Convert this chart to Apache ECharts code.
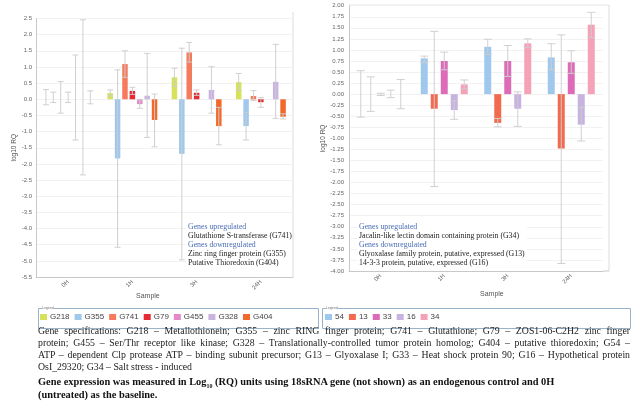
<!DOCTYPE html>
<html>
<head>
<meta charset="utf-8">
<script src="https://cdn.jsdelivr.net/npm/echarts@6/dist/echarts.min.js"></script>
<style>
html, body { margin: 0; padding: 0; background: #fff; }
#wrap { position: relative; width: 642px; height: 418px; }
#chartMain { position: absolute; left: 0; top: 0; width: 642px; height: 418px; }
.caption { position: absolute; left: 38px; width: 592px; font-family: "Liberation Serif", "Times New Roman", serif; color: #222; }
.caption .ln { font-size: 9.8px; line-height: 12px; height: 12px; white-space: nowrap; text-align: justify; text-align-last: justify; }
.caption .ln.last { text-align-last: left; }
.caption .bold { font-weight: bold; font-size: 10.4px; line-height: 13px; height: 13px; color: #111; white-space: nowrap; }
</style>
</head>
<body>
<div id="wrap">
    <div id="chartMain"></div>
    <div class="caption" style="top: 325px">
        <div class="ln">Gene specifications: G218 – Metallothionein; G355 – zinc RING finger protein; G741 – Glutathione; G79 – ZOS1-06-C2H2 zinc finger</div>
        <div class="ln">protein; G455 – Ser/Thr receptor like kinase; G328 – Translationally-controlled tumor protein homolog; G404 – putative thioredoxin; G54 –</div>
        <div class="ln">ATP – dependent Clp protease ATP – binding subunit precursor; G13 – Glyoxalase I; G33 – Heat shock protein 90; G16 – Hypothetical protein</div>
        <div class="ln last">OsI_29320; G34 – Salt stress - induced</div>
        <div class="bold" style="margin-top: 2px">Gene expression was measured in Log<sub style="font-size: 6px">10</sub> (RQ) units using 18sRNA gene (not shown) as an endogenous control and 0H</div>
        <div class="bold">(untreated) as the baseline.</div>
    </div>
</div>
<script>
// sample times
const categories = ['0H', '1H', '3H', '24H']

// left chart: log10 RQ per gene, and error range [low, high]
const leftGenes = ['G218', 'G355', 'G741', 'G79', 'G455', 'G328', 'G404']
const G218 = [0, 0.19, 0.68, 0.53]
const G355 = [0, -1.83, -1.69, -0.83]
const G741 = [0, 1.09, 1.45, 0.1]
const G79 = [0, 0.26, 0.2, -0.09]
const G455 = [0, -0.15, 0, 0]
const G328 = [0, 0.11, 0.29, 0.54]
const G404 = [0, -0.64, -0.83, -0.54]
const errG218 = [[-0.17, 0.3], [0.1, 0.29], [0.4, 0.96], [0.27, 0.8]]
const errG355 = [[-0.1, 0.22], [-4.58, 0.91], [-4.97, 1.58], [-1.26, -0.4]]
const errG741 = [[-0.43, 0.55], [0.68, 1.5], [1.15, 1.76], [-0.04, 0.27]]
const errG79 = [[-0.1, 0.22], [0.15, 0.37], [0.12, 0.29], [-0.25, 0.05]]
const errG455 = [[-1.26, 1.37], [-0.28, -0.02], null, null]
const errG328 = [[-2.34, 2.46], [-1.18, 1.42], [-0.43, 1.01], [-0.59, 1.7]]
const errG404 = [[-0.14, 0.26], [-1.47, 0.16], [-1.41, -0.25], [-0.61, -0.45]]

// right chart
const rightGenes = ['54', '13', '33', '16', '34']
const G54 = [0, 0.81, 1.07, 0.83]
const G13 = [0, -0.33, -0.65, -1.23]
const G33 = [0, 0.75, 0.75, 0.72]
const G16 = [0, -0.36, -0.33, -0.69]
const G34 = [0, 0.22, 1.15, 1.57]
const errG54 = [[-0.52, 0.53], [0.72, 0.86], [0.9, 1.24], [0.55, 1.14]]
const errG13 = [[-0.39, 0.39], [-2.09, 1.42], [-0.74, -0.55], [-3.83, 1.34]]
const errG33 = [[-0.03, 0.02], [0.55, 0.95], [0.4, 1.1], [0.47, 0.98]]
const errG16 = [[-0.08, 0.09], [-0.57, -0.15], [-0.73, 0.05], [-1.06, -0.3]]
const errG34 = [[-0.33, 0.33], [0.12, 0.32], [1.05, 1.25], [1.28, 1.85]]

const leftValues = [G218, G355, G741, G79, G455, G328, G404]
const leftErrors = [errG218, errG355, errG741, errG79, errG455, errG328, errG404]
const rightValues = [G54, G13, G33, G16, G34]
const rightErrors = [errG54, errG13, errG33, errG16, errG34]

const leftColors = ['#d6e35a', '#9fc8ec', '#f47b5e', '#e52a32', '#e48ac8', '#c9b4e0', '#f26a2b']
const rightColors = ['#9fc8ec', '#f26b50', '#dd6cb8', '#c7b3e0', '#f5a1b8']

const chart = echarts.init(document.getElementById('chartMain'))

// bar width / slot per chart (px)
const leftBar = { w: 5.5, slot: 7.4, cap: 3 }
const rightBar = { w: 7, slot: 10, cap: 4 }

function errorSeries(errors, n, cfg, axisIdx) {
    const data = []
    errors.forEach((arr, g) => {
        arr.forEach((e, c) => {
            if (e) data.push([c, g, e[0], e[1]])
        })
    })
    return {
        type: 'custom',
        xAxisIndex: axisIdx,
        yAxisIndex: axisIdx,
        z: 5,
        silent: true,
        encode: { x: 0, y: [2, 3] },
        data: data,
        renderItem: (params, api) => {
            const c = api.value(0), g = api.value(1)
            const x = api.coord([c, 0])[0] + (g - (n - 1) / 2) * cfg.slot
            const yHi = api.coord([c, api.value(3)])[1]
            const yLo = api.coord([c, api.value(2)])[1]
            const style = { stroke: 'rgba(205,205,205,0.95)', lineWidth: 1 }
            return {
                type: 'group',
                children: [
                    { type: 'line', shape: { x1: x, y1: yHi, x2: x, y2: yLo }, style: style },
                    { type: 'line', shape: { x1: x - cfg.cap, y1: yHi, x2: x + cfg.cap, y2: yHi }, style: style },
                    { type: 'line', shape: { x1: x - cfg.cap, y1: yLo, x2: x + cfg.cap, y2: yLo }, style: style },
                ],
            }
        },
    }
}

const axisText = { color: '#666', fontSize: 6, fontFamily: 'Liberation Sans' }

const series = []
leftGenes.forEach((name, i) => {
    series.push({
        name: name,
        type: 'bar',
        xAxisIndex: 0,
        yAxisIndex: 0,
        barWidth: leftBar.w,
        barGap: ((leftBar.slot - leftBar.w) / leftBar.w * 100).toFixed(1) + '%',
        itemStyle: { color: leftColors[i] },
        data: leftValues[i],
    })
})
rightGenes.forEach((name, i) => {
    series.push({
        name: name,
        type: 'bar',
        xAxisIndex: 1,
        yAxisIndex: 1,
        barWidth: rightBar.w,
        barGap: ((rightBar.slot - rightBar.w) / rightBar.w * 100).toFixed(1) + '%',
        itemStyle: { color: rightColors[i] },
        data: rightValues[i],
    })
})
series.push(errorSeries(leftErrors, leftGenes.length, leftBar, 0))
series.push(errorSeries(rightErrors, rightGenes.length, rightBar, 1))

const annoTitle = { fill: '#4a6db3', fontSize: 7.8, fontFamily: 'Liberation Serif' }
const annoText = { fill: '#222', fontSize: 7.8, fontFamily: 'Liberation Serif' }
function textEl(x, y, text, st) {
    return { type: 'text', left: x, top: y, z: 10, style: Object.assign({ text: text }, st) }
}

const legendBase = {
    top: 313,
    padding: 0,
    icon: 'rect',
    itemWidth: 7,
    itemHeight: 6,
    itemGap: 5,
    textStyle: { color: '#444', fontSize: 8, fontFamily: 'Liberation Sans', padding: [0, 0, 0, -2] },
}

const option = {
    animation: false,
    grid: [
        { left: 36, top: 18.5, width: 257, height: 258.5 },
        { left: 349, top: 5.7, width: 254, height: 265.3 },
    ],
    xAxis: [0, 1].map((i) => ({
        type: 'category',
        gridIndex: i,
        data: categories,
        axisTick: { show: false },
        axisLine: { onZero: false, lineStyle: { color: '#c8c8c8' } },
        axisLabel: Object.assign({ rotate: 45, margin: 4 }, axisText),
    })),
    yAxis: [
        {
            type: 'value',
            gridIndex: 0,
            min: -5.5,
            max: 2.5,
            interval: 0.5,
            name: 'log10 RQ',
            nameLocation: 'middle',
            nameGap: 12,
            nameTextStyle: { color: '#555', fontSize: 6.5, fontFamily: 'Liberation Sans' },
            axisLine: { show: true, lineStyle: { color: '#c8c8c8' } },
            splitLine: { lineStyle: { color: '#f2f2f2' } },
            axisLabel: Object.assign({ margin: 4, formatter: (v) => v.toFixed(1) }, axisText),
        },
        {
            type: 'value',
            gridIndex: 1,
            min: -4,
            max: 2,
            interval: 0.25,
            name: 'log10 RQ',
            nameLocation: 'middle',
            nameGap: 17,
            nameTextStyle: { color: '#555', fontSize: 6.5, fontFamily: 'Liberation Sans' },
            axisLine: { show: true, lineStyle: { color: '#c8c8c8' } },
            splitLine: { lineStyle: { color: '#f2f2f2' } },
            axisLabel: Object.assign({ margin: 5, formatter: (v) => v.toFixed(2) }, axisText),
        },
    ],
    legend: [
        Object.assign({ data: leftGenes, left: 40 }, legendBase),
        Object.assign({ data: rightGenes, left: 325 }, legendBase),
    ],
    graphic: [
        // plot borders
        { type: 'line', shape: { x1: 293, y1: 12, x2: 293, y2: 277 }, style: { stroke: '#dcdcdc', lineWidth: 1 } },
        { type: 'line', shape: { x1: 349, y1: 5, x2: 609, y2: 5 }, style: { stroke: '#e6e6e6', lineWidth: 1 } },
        { type: 'line', shape: { x1: 609, y1: 5, x2: 609, y2: 271 }, style: { stroke: '#dcdcdc', lineWidth: 1 } },
        { type: 'line', shape: { x1: 603, y1: 271, x2: 609, y2: 271 }, style: { stroke: '#c8c8c8', lineWidth: 1 } },
        // axis titles
        textEl(136, 293, 'Sample', { fill: '#555', fontSize: 7, fontFamily: 'Liberation Sans' }),
        textEl(480, 291, 'Sample', { fill: '#555', fontSize: 7, fontFamily: 'Liberation Sans' }),
        // legend boxes
        { type: 'rect', shape: { x: 38.5, y: 308.5, width: 280, height: 20 }, style: { fill: 'none', stroke: '#9ab3cc', lineWidth: 1 } },
        { type: 'rect', shape: { x: 322.5, y: 308.5, width: 308, height: 20 }, style: { fill: 'none', stroke: '#9ab3cc', lineWidth: 1 } },
        textEl(42, 306.5, 'Legend', { fill: '#777', fontSize: 3.5, fontFamily: 'Liberation Sans', backgroundColor: '#fff' }),
        textEl(326, 306.5, 'Legend', { fill: '#777', fontSize: 3.5, fontFamily: 'Liberation Sans', backgroundColor: '#fff' }),
        // notes inside plots (white box behind)
        { type: 'rect', z: 9, shape: { x: 186, y: 221, width: 106, height: 47 }, style: { fill: '#fff' } },
        { type: 'rect', z: 9, shape: { x: 357, y: 221, width: 170, height: 47 }, style: { fill: '#fff' } },
        textEl(188, 222.6, 'Genes upregulated', annoTitle),
        textEl(188, 232, 'Glutathione S-transferase (G741)', annoText),
        textEl(188, 241, 'Genes downregulated', annoTitle),
        textEl(188, 250.3, 'Zinc ring finger protein (G355)', annoText),
        textEl(188, 259.3, 'Putative Thioredoxin (G404)', annoText),
        textEl(359, 222.6, 'Genes upregulated', annoTitle),
        textEl(359, 232, 'Jacalin-like lectin domain containing protein (G34)', annoText),
        textEl(359, 241, 'Genes downregulated', annoTitle),
        textEl(359, 250.3, 'Glyoxalase family protein, putative, expressed (G13)', annoText),
        textEl(359, 259.3, '14-3-3 protein, putative, expressed (G16)', annoText),
    ],
    series: series,
}
option && chart.setOption(option)
</script>
</body>
</html>
